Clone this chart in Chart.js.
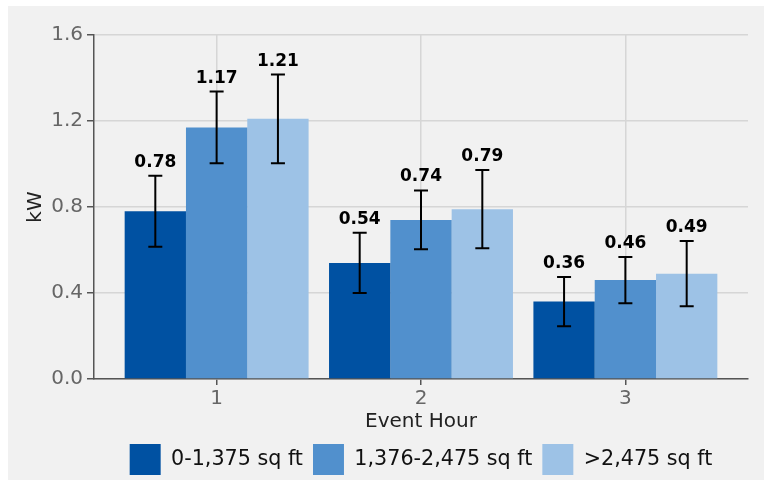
<!DOCTYPE html>
<html>
<head>
<meta charset="utf-8">
<script src="https://cdn.jsdelivr.net/npm/chart.js@4/dist/chart.umd.min.js"></script>
<style>
  html, body { margin: 0; padding: 0; background: #ffffff; }
  #wrap { width: 764px; height: 480px; position: relative; }
</style>
</head>
<body>
<div id="wrap"><canvas id="chart" width="764" height="480"></canvas></div>
<script>
// Event hours on the x axis
const eventHours = [1, 2, 3];
const yTicks = [0, 0.4, 0.8, 1.2, 1.6];

// Home size groups
const seriesNames = ['0-1,375 sq ft', '1,376-2,475 sq ft', '>2,475 sq ft'];

// Average demand reduction (kW) per event hour
const smallHomes  = [0.78, 0.54, 0.36];
const mediumHomes = [1.17, 0.74, 0.46];
const largeHomes  = [1.21, 0.79, 0.49];

// Half-width of the error bars (kW)
const smallErr  = [0.165, 0.14, 0.115];
const mediumErr = [0.167, 0.137, 0.108];
const largeErr  = [0.206, 0.182, 0.152];

const seriesValues = [smallHomes, mediumHomes, largeHomes];
const seriesErrors = [smallErr, mediumErr, largeErr];
const seriesColors = ['#0051a2', '#5190cd', '#9dc2e6'];

const FONT = 'DejaVu Sans';
Chart.defaults.font.family = FONT;

const background = {
  id: 'background',
  beforeDraw(chart) {
    const ctx = chart.ctx;
    ctx.save();
    ctx.fillStyle = '#ffffff';
    ctx.fillRect(0, 0, chart.width, chart.height);
    ctx.fillStyle = '#f1f1f1';
    ctx.fillRect(8, 6, chart.width - 8, chart.height - 6);
    ctx.restore();
  }
};

// Error bars and value labels drawn on top of each bar
const errorBars = {
  id: 'errorBars',
  afterDatasetsDraw(chart) {
    const ctx = chart.ctx;
    const yScale = chart.scales.y;
    ctx.save();
    chart.data.datasets.forEach((ds, di) => {
      const meta = chart.getDatasetMeta(di);
      const errs = seriesErrors[di];
      meta.data.forEach((bar, i) => {
        const v = seriesValues[di][i];
        const e = errs[i];
        const top = yScale.getPixelForValue(v + e);
        const bot = yScale.getPixelForValue(v - e);
        const x = bar.x;
        ctx.strokeStyle = '#000';
        ctx.lineWidth = 2;
        ctx.beginPath();
        ctx.moveTo(x, top); ctx.lineTo(x, bot);
        ctx.moveTo(x - 7, top); ctx.lineTo(x + 7, top);
        ctx.moveTo(x - 7, bot); ctx.lineTo(x + 7, bot);
        ctx.stroke();
        ctx.fillStyle = '#000';
        ctx.font = 'bold 17px ' + FONT;
        ctx.textAlign = 'center';
        ctx.textBaseline = 'alphabetic';
        ctx.fillText(v.toFixed(2), x, top - 9);
      });
    });
    ctx.restore();
  }
};

new Chart(document.getElementById('chart'), {
  type: 'bar',
  data: {
    datasets: seriesNames.map((name, di) => ({
      label: name,
      data: eventHours.map((h, i) => ({ x: h, y: seriesValues[di][i] })),
      backgroundColor: seriesColors[di],
      borderColor: seriesColors[di],
      borderWidth: 0,
      categoryPercentage: 0.9,
      barPercentage: 1.0
    }))
  },
  options: {
    responsive: false,
    animation: false,
    events: [],
    layout: { padding: { left: 0, top: 35, right: 16, bottom: 0 } },
    scales: {
      x: {
        type: 'linear',
        min: 0.4,
        max: 3.6,
        offset: false,
        afterBuildTicks(scale) { scale.ticks = eventHours.map(v => ({ value: v })); },
        afterFit(scale) { scale.height = 55; },
        ticks: {
          color: '#666666',
          font: { size: 20 },
          padding: 2,
          callback: v => String(v)
        },
        grid: { offset: false, color: '#d6d6d6', lineWidth: 1.5, tickColor: '#555555', tickWidth: 1.5, tickLength: 6 },
        border: { color: '#555555', width: 1.5 },
        title: { display: true, text: 'Event Hour', color: '#222222', font: { size: 20 }, padding: { top: 0, bottom: 0 } }
      },
      y: {
        min: 0,
        max: 1.6,
        afterBuildTicks(scale) { scale.ticks = yTicks.map(v => ({ value: v })); },
        afterFit(scale) { scale.width = 94; },
        ticks: {
          color: '#666666',
          font: { size: 20 },
          padding: 4,
          callback: v => v.toFixed(1)
        },
        grid: { color: '#d6d6d6', lineWidth: 1.5, tickColor: '#555555', tickWidth: 1.5, tickLength: 7 },
        border: { color: '#555555', width: 1.5 },
        title: { display: true, text: 'kW', color: '#222222', font: { size: 20 }, padding: { top: 24, bottom: 0 } }
      }
    },
    plugins: {
      legend: {
        position: 'bottom',
        fullSize: false,
        maxHeight: 46,
        labels: {
          boxWidth: 31,
          boxHeight: 31,
          padding: 10,
          color: '#111111',
          font: { size: 20.7 }
        }
      },
      tooltip: { enabled: false }
    }
  },
  plugins: [background, errorBars]
});
</script>
</body>
</html>
